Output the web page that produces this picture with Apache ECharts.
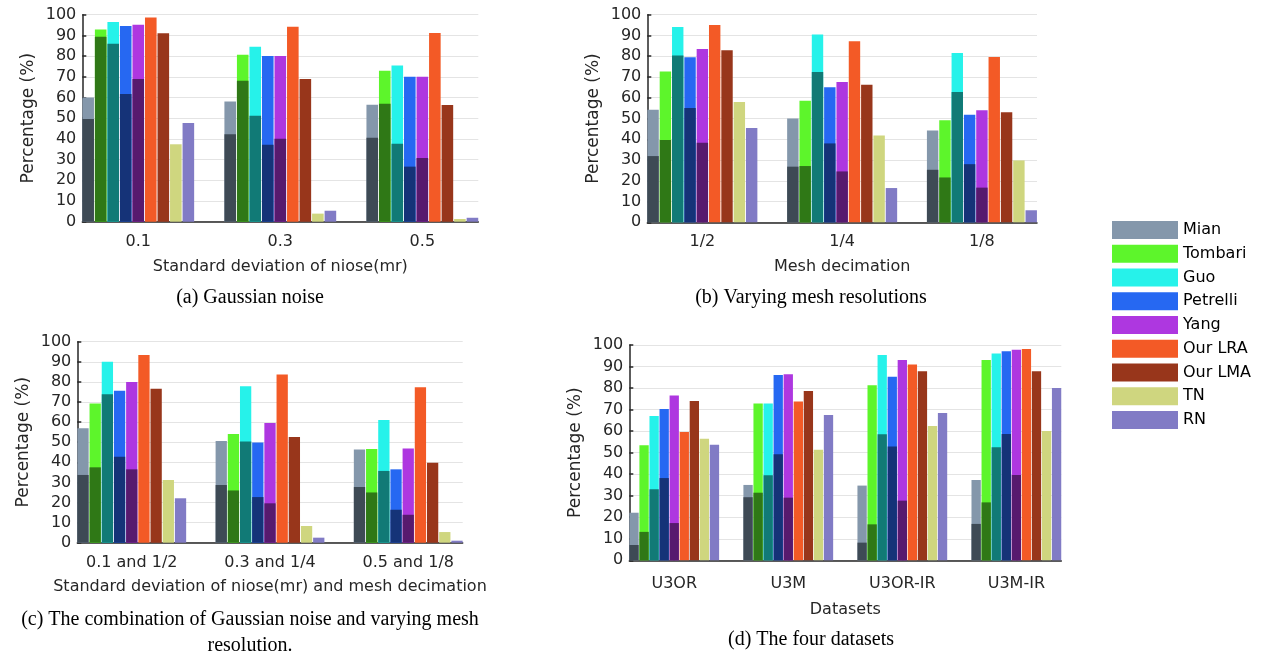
<!DOCTYPE html>
<html><head><meta charset="utf-8">
<script src="https://cdn.jsdelivr.net/npm/echarts@6/dist/echarts.min.js"></script>
<style>html,body{margin:0;padding:0;background:#fff}#c{width:1264px;height:653px}</style>
</head><body><div id="c"></div>
<script>
// ---------------- data ----------------
const methods = ['Mian','Tombari','Guo','Petrelli','Yang','Our LRA','Our LMA','TN','RN'];
const lightColors = ['#8497ab','#5df52b','#26f2ea','#2668f2','#ae37e0','#f35a26','#98361b','#cfd67f','#817bc5'];
const darkColors  = ['#3e4a55','#2f7816','#117a76','#153378','#571a6e'];

// (a) Gaussian noise
const catsA = ['0.1','0.3','0.5'];
const topA = [
  [60.0, 58.1, 56.5],  // Mian
  [92.8, 80.7, 72.9],  // Tombari
  [96.5, 84.5, 75.5],  // Guo
  [94.5, 80.0, 70.0],  // Petrelli
  [95.2, 80.0, 70.0],  // Yang
  [98.7, 94.2, 91.1],  // Our LRA
  [91.0, 68.9, 56.4],  // Our LMA
  [37.4, 3.9, 1.3],    // TN
  [47.7, 5.3, 1.9]     // RN
];
const lowA = [
  [49.6, 42.2, 40.6],
  [89.4, 68.1, 57.0],
  [86.0, 51.2, 37.7],
  [61.7, 37.2, 26.6],
  [68.9, 40.1, 30.8]
];

// (b) Varying mesh resolutions
const catsB = ['1/2','1/4','1/8'];
const topB = [
  [54.2, 50.0, 44.2],
  [72.6, 58.5, 49.2],
  [94.1, 90.5, 81.6],
  [79.5, 65.1, 51.8],
  [83.5, 67.6, 54.0],
  [95.0, 87.2, 79.6],
  [82.9, 66.2, 53.0],
  [58.0, 41.8, 29.8],
  [45.4, 16.5, 5.8]
];
const lowB = [
  [31.9, 26.8, 25.3],
  [39.6, 27.1, 21.6],
  [80.4, 72.4, 62.8],
  [55.1, 38.0, 28.0],
  [38.3, 24.5, 16.7]
];

// (c) Gaussian noise + mesh resolution
const catsC = ['0.1 and 1/2','0.3 and 1/4','0.5 and 1/8'];
const topC = [
  [57.0, 50.6, 46.4],
  [69.3, 54.1, 46.6],
  [90.0, 77.8, 61.0],
  [75.6, 49.8, 36.5],
  [79.9, 59.5, 46.9],
  [93.4, 83.7, 77.3],
  [76.6, 52.6, 39.8],
  [31.2, 8.3, 5.3],
  [22.1, 2.5, 1.0]
];
const lowC = [
  [33.7, 28.7, 27.7],
  [37.5, 26.0, 25.0],
  [73.8, 50.4, 35.7],
  [42.8, 22.7, 16.4],
  [36.5, 19.6, 13.9]
];

// (d) The four datasets
const catsD = ['U3OR','U3M','U3OR-IR','U3M-IR'];
const topD = [
  [22.1, 35.0, 34.7, 37.3],
  [53.4, 72.8, 81.3, 93.0],
  [67.0, 72.8, 95.4, 96.1],
  [70.3, 86.1, 85.3, 97.1],
  [76.6, 86.4, 93.0, 97.8],
  [59.6, 73.7, 91.0, 98.1],
  [74.0, 78.6, 87.8, 87.8],
  [56.5, 51.4, 62.4, 60.1],
  [53.7, 67.5, 68.4, 80.0]
];
const lowD = [
  [7.1, 29.3, 8.2, 16.9],
  [13.2, 31.4, 16.7, 26.9],
  [33.0, 39.5, 58.5, 52.5],
  [38.2, 49.2, 52.9, 58.7],
  [17.3, 29.1, 27.7, 39.6]
];

const xNames = ['Standard deviation of niose(mr)','Mesh decimation','Standard deviation of niose(mr) and mesh decimation','Datasets'];
const captions = ['(a) Gaussian noise','(b) Varying mesh resolutions','(c) The combination of Gaussian noise and varying mesh\nresolution.','(d) The four datasets'];

// ---------------- layout ----------------
const grids = [
  {left: 82.3, top: 14.7, width: 396, height: 207},
  {left: 647.3, top: 14.7, width: 389.7, height: 207.6},
  {left: 77.3, top: 341.7, width: 385.4, height: 201},
  {left: 629.3, top: 345, width: 432, height: 215.3}
];
const labelMargins = [12, 12, 12, 16];
const nameGaps = [37, 37, 36, 42];
const panels = [
  {cats: catsA, top: topA, low: lowA},
  {cats: catsB, top: topB, low: lowB},
  {cats: catsC, top: topC, low: lowC},
  {cats: catsD, top: topD, low: lowD}
];
const capPos = [[250, 298], [811, 298], [250, 633], [811, 640]];
const OFF = 0.394;
const FONT = 'DejaVu Sans';
const INK = '#262626';

const xAxes = [], yAxes = [], series = [];
panels.forEach((p, pi) => {
  const n = p.cats.length;
  const ticks = p.cats.map((c, i) => i + 1);
  // visible category-like axis
  xAxes.push({
    type: 'value', gridIndex: pi, min: 1 - OFF, max: n + OFF,
    axisLine: {show: true, onZero: false, lineStyle: {color: INK, width: 1.5}},
    axisTick: {show: true, inside: true, length: 4, customValues: ticks, lineStyle: {color: INK, width: 1.5}},
    axisLabel: {show: true, customValues: ticks, margin: labelMargins[pi], fontSize: 16, fontFamily: FONT, color: INK,
      formatter: v => p.cats[Math.round(v) - 1] || ''},
    splitLine: {show: false},
    name: xNames[pi], nameLocation: 'middle', nameGap: nameGaps[pi],
    nameTextStyle: {fontSize: 16, fontFamily: FONT, color: INK}
  });
  // hidden twin axis used for the overlapping darker (lower) bars
  xAxes.push({
    type: 'value', gridIndex: pi, min: 1 - OFF, max: n + OFF,
    axisLine: {show: false}, axisTick: {show: false}, axisLabel: {show: false}, splitLine: {show: false}
  });
  yAxes.push({
    type: 'value', gridIndex: pi, min: 0, max: 100, interval: 10,
    axisLine: {show: true, onZero: false, lineStyle: {color: INK, width: 1.5}},
    axisTick: {show: true, inside: true, length: 4, lineStyle: {color: INK, width: 1.5}},
    axisLabel: {margin: 6, fontSize: 16, fontFamily: FONT, color: INK},
    splitLine: {show: true, lineStyle: {color: '#e4e4e4', width: 1}},
    name: 'Percentage (%)', nameLocation: 'middle', nameGap: 45,
    nameTextStyle: {fontSize: 17, fontFamily: FONT, color: INK}
  });
  const common = {type: 'bar', yAxisIndex: pi, barCategoryGap: '21.3%', barGap: '8%', animation: false};
  methods.forEach((m, mi) => {
    series.push(Object.assign({}, common, {
      name: m, xAxisIndex: 2 * pi,
      itemStyle: {color: lightColors[mi]},
      data: p.cats.map((c, ci) => [ci + 1, p.top[mi][ci]])
    }));
  });
  methods.forEach((m, mi) => {
    const hasLow = mi < p.low.length;
    series.push(Object.assign({}, common, {
      name: m + ' (lower)', xAxisIndex: 2 * pi + 1,
      itemStyle: {color: hasLow ? darkColors[mi] : 'rgba(0,0,0,0)'},
      data: p.cats.map((c, ci) => [ci + 1, hasLow ? p.low[mi][ci] : 0])
    }));
  });
});

const graphics = captions.map((t, i) => ({
  type: 'text', x: capPos[i][0], y: capPos[i][1],
  style: {text: t, fill: '#000', fontSize: 20, fontFamily: 'Liberation Serif',
    align: 'center', verticalAlign: 'middle', textAlign: 'center', textVerticalAlign: 'middle', lineHeight: 26}
}));

const chart = echarts.init(document.getElementById('c'), null, {renderer: 'canvas'});
chart.setOption({
  backgroundColor: '#fff',
  animation: false,
  grid: grids.map(g => Object.assign({containLabel: false}, g)),
  xAxis: xAxes,
  yAxis: yAxes,
  legend: {
    data: methods, orient: 'vertical', left: 1112, top: 221, padding: 0,
    itemWidth: 66, itemHeight: 18, itemGap: 5.75, icon: 'rect',
    textStyle: {fontSize: 16, fontFamily: FONT, color: '#000', lineHeight: 18}
  },
  graphic: graphics,
  series: series
});
</script>
</body></html>
